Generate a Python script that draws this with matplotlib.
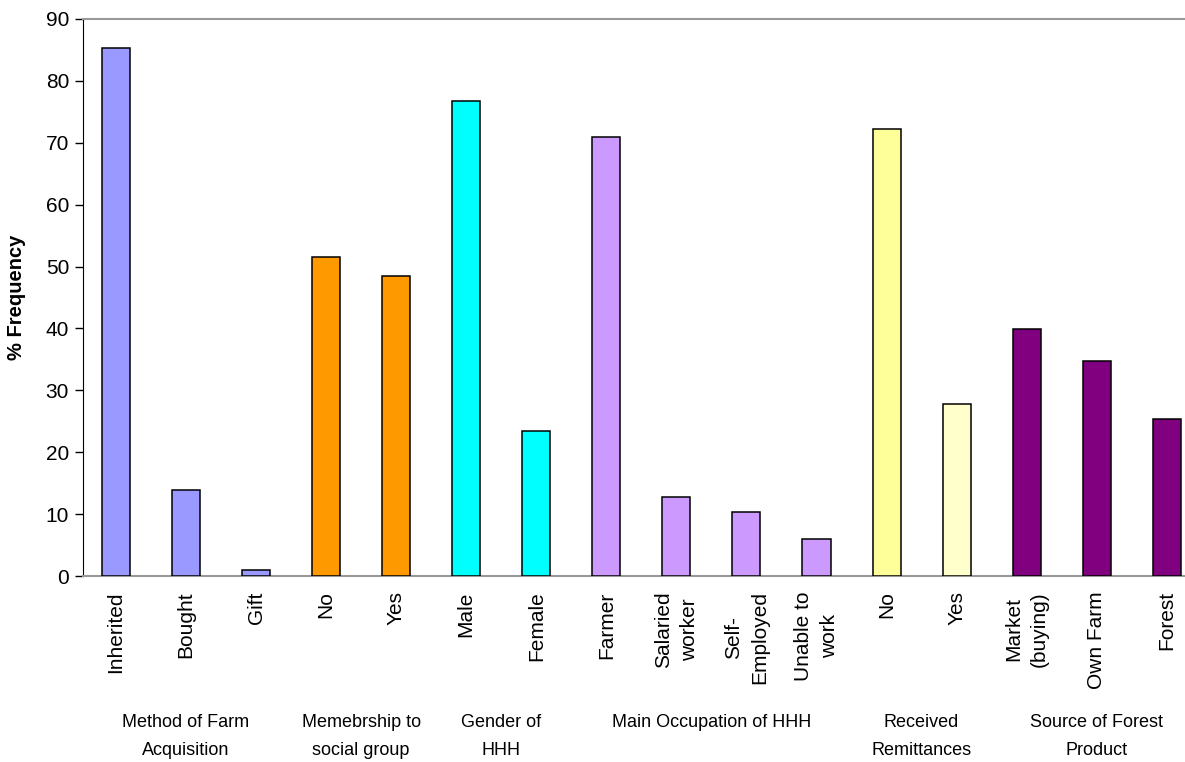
import numpy as np
import matplotlib
matplotlib.use("Agg")
import matplotlib.pyplot as plt
import matplotlib.transforms as mtransforms

plt.rcParams['font.family'] = ['Liberation Sans', 'DejaVu Sans']

# categories and values
labels = ['Inherited', 'Bought', 'Gift', 'No', 'Yes', 'Male', 'Female',
          'Farmer', 'Salaried\nworker', 'Self-\nEmployed', 'Unable to\nwork',
          'No', 'Yes', 'Market\n(buying)', 'Own Farm', 'Forest']
values = [85.3, 13.9, 0.9, 51.6, 48.5, 76.7, 23.4,
          71.0, 12.7, 10.4, 6.0, 72.3, 27.8, 39.9, 34.8, 25.4]
colors = ['#9999FF'] * 3 + ['#FF9900'] * 2 + ['#00FFFF'] * 2 + ['#CC99FF'] * 4 + \
         ['#FFFF99', '#FFFFCC'] + ['#800080'] * 3

groups = ['Method of Farm\nAcquisition', 'Memebrship to\nsocial group', 'Gender of\nHHH',
          'Main Occupation of HHH', 'Received\nRemittances', 'Source of Forest\nProduct']
group_sizes = [3, 2, 2, 4, 2, 3]

fig = plt.figure(figsize=(11.85, 7.62), dpi=100)
ax = fig.add_axes([83 / 1185, 186 / 762, 1 - 83 / 1185, 557 / 762])

x = np.arange(len(values))
ax.bar(x, values, width=0.4, color=colors, edgecolor='black', linewidth=1.1, zorder=3)

ax.set_xlim(-0.47, 15.26)
ax.set_ylim(0, 90)
ax.set_yticks(range(0, 91, 10))
ax.tick_params(axis='y', labelsize=15, length=6, direction='out', width=1, pad=4)
ax.set_xticks(x)
ax.set_xticklabels(labels, rotation=90, fontsize=15, va='top', ha='center',
                   multialignment='center', linespacing=1.45)
ax.tick_params(axis='x', length=0, pad=11)

ax.spines['right'].set_visible(False)
ax.spines['top'].set_color('#999999')
ax.spines['top'].set_linewidth(1.5)
ax.spines['bottom'].set_color('#999999')
ax.spines['bottom'].set_linewidth(1.5)
ax.spines['left'].set_color('black')

ax.set_ylabel('% Frequency', fontsize=14.5, fontweight='bold', labelpad=14)

trans = mtransforms.blended_transform_factory(ax.transData, ax.transAxes)
start = 0
for name, n in zip(groups, group_sizes):
    center = start + (n - 1) / 2
    ax.text(center, -0.247, name, transform=trans, ha='center', va='top',
            fontsize=13, linespacing=1.85)
    start += n

fig.savefig('out.png', dpi=100)
